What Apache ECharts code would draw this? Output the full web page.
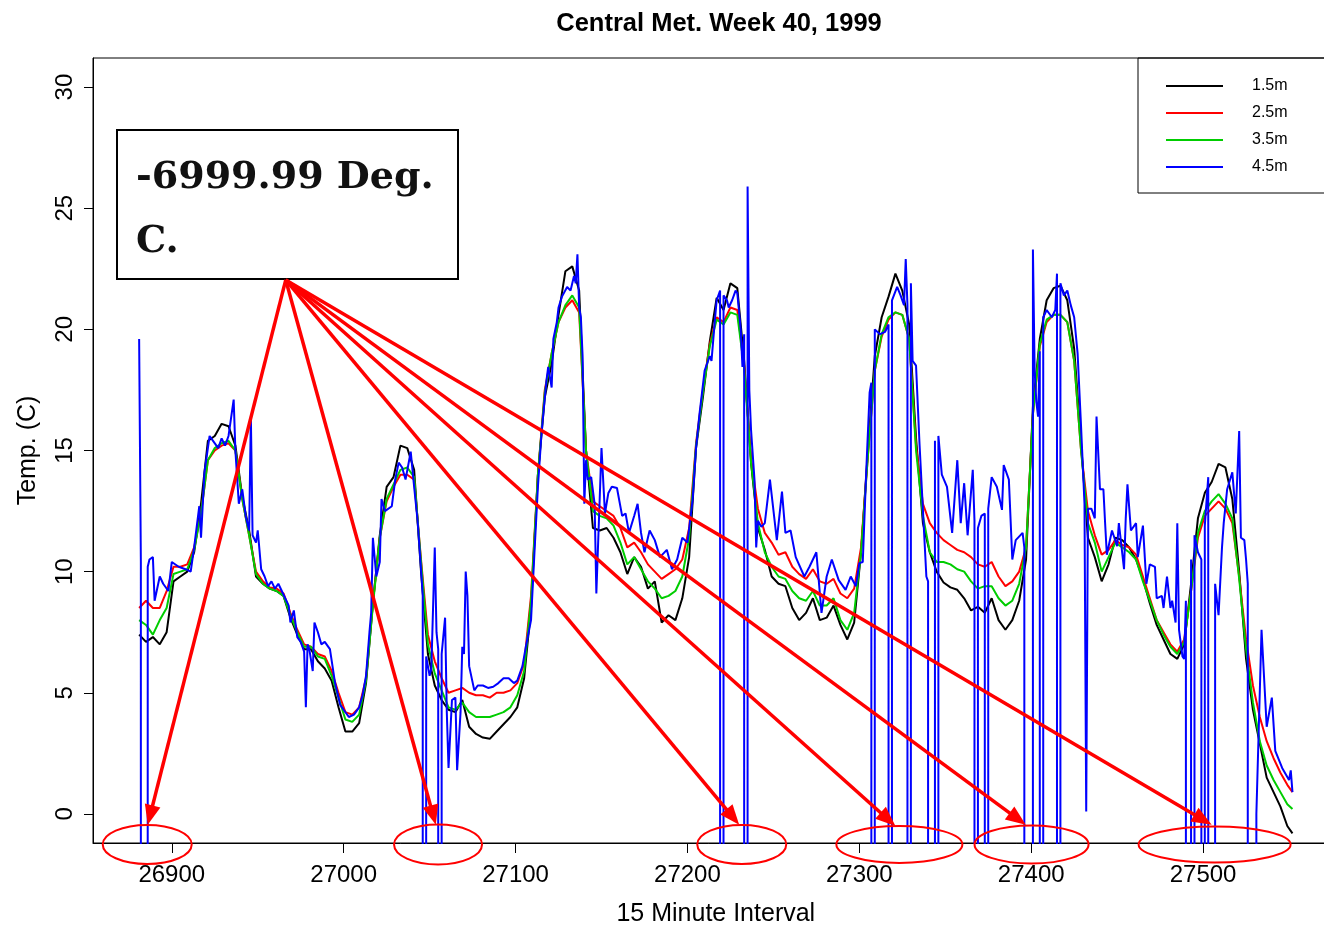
<!DOCTYPE html>
<html>
<head>
<meta charset="utf-8">
<title>Central Met. Week 40, 1999</title>
<script src="https://cdn.jsdelivr.net/npm/echarts@6/dist/echarts.min.js"></script>
<style>
  html, body { margin: 0; padding: 0; background: #fff; }
  #chart { width: 1324px; height: 926px; }
</style>
</head>
<body>
<div id="chart"></div>
<script>
// sampled 15 minute intervals for the 1.5m / 2.5m / 3.5m sensors
var xStart = 26881;
var xStep = 4;
var xEnd = 27552;

var xTicks = [26900, 27000, 27100, 27200, 27300, 27400, 27500];
var yTicks = [0, 5, 10, 15, 20, 25, 30];

var t15 = [
  7.4, 7.1, 7.3, 7.0, 7.5, 9.6, 9.8, 10.0, 10.8, 12.8,
  15.4, 15.6, 16.1, 16.0, 15.2, 13.1, 11.7, 9.8, 9.5, 9.3,
  9.2, 9.0, 8.1, 7.4, 6.8, 6.8, 6.3, 6.0, 5.5, 4.4,
  3.4, 3.4, 3.75, 5.4, 8.7, 11.5, 13.5, 13.9, 15.2, 15.1,
  14.2, 10.0, 6.6, 5.3, 4.7, 4.3, 4.2, 4.7, 3.6, 3.3,
  3.15, 3.1, 3.4, 3.7, 4.0, 4.4, 5.6, 8.5, 14.0, 17.2,
  18.6, 20.6, 22.4, 22.6, 21.6, 15.0, 11.8, 11.7, 11.8, 11.4,
  10.8, 9.9, 10.6, 10.2, 9.3, 9.6, 7.9, 8.2, 8.0, 8.9,
  10.6, 15.1, 17.2, 19.5, 21.3, 20.8, 21.9, 21.7, 18.7, 14.5,
  11.8, 10.9, 9.8, 9.5, 9.4, 8.5, 8.0, 8.3, 8.9, 8.0,
  8.1, 8.6, 7.8, 7.2, 7.9, 10.8, 15.0, 18.9, 20.5, 21.35,
  22.3, 21.6, 20.2, 15.5, 12.0, 10.8, 10.0, 9.55, 9.35, 9.25,
  8.9, 8.4, 8.55, 8.3, 8.9, 8.0, 7.6, 8.0, 8.8, 10.5,
  16.8, 19.6, 21.2, 21.7, 21.8, 21.2, 19.2, 15.3, 11.4, 10.6,
  9.6, 10.3, 11.4, 11.3, 11.0, 10.5, 9.7, 8.7, 7.8, 7.2,
  6.6, 6.4, 7.0, 9.5, 12.2, 13.25, 13.7, 14.45, 14.3, 13.0,
  10.0, 6.4, 4.3, 2.9, 1.5, 0.9, 0.3, -0.5, -0.8
];

var t25 = [
  8.5, 8.8, 8.5, 8.5, 9.2, 10.2, 10.2, 10.3, 11.0, 12.4,
  14.6, 15.0, 15.2, 15.3, 15.0, 13.0, 11.5, 10.0, 9.6, 9.35,
  9.3, 9.1, 8.3, 7.6, 7.0, 6.9, 6.6, 6.5, 5.9, 5.0,
  4.2, 4.1, 4.4, 5.6, 8.7, 11.4, 12.9, 13.5, 14.0, 14.0,
  13.8, 10.5, 7.4, 6.3, 5.6, 5.0, 5.1, 5.2, 5.0, 4.9,
  4.9, 4.8, 5.0, 5.0, 5.1, 5.4, 6.2, 9.0, 14.0, 17.5,
  19.0, 20.3, 20.9, 21.2, 20.7, 15.0, 12.9, 12.7, 12.5, 12.3,
  11.8, 11.0, 11.2, 10.8, 10.3, 10.0, 9.7, 9.9, 10.1, 10.5,
  11.8, 15.3, 17.5, 19.4, 20.5, 20.3, 20.9, 20.8, 18.5, 14.7,
  12.6, 11.6, 11.2, 10.7, 10.8, 10.2, 9.9, 9.7, 10.1, 9.6,
  9.5, 9.7, 9.1, 8.9, 9.3, 11.0, 14.8, 18.3, 19.7, 20.4,
  20.7, 20.6, 19.6, 15.2, 12.8, 12.0, 11.6, 11.3, 11.1, 10.9,
  10.8, 10.6, 10.3, 10.2, 10.4, 9.8, 9.4, 9.6, 10.0, 11.0,
  16.5, 19.3, 20.3, 20.6, 20.6, 20.3, 18.7, 15.0, 12.5, 11.5,
  10.7, 10.9, 11.3, 11.1, 11.0, 10.7, 9.8, 8.9, 8.0, 7.5,
  7.0, 6.7, 7.2, 9.2, 11.4, 12.3, 12.6, 12.9, 12.6, 12.0,
  9.8, 7.2, 5.3, 4.0, 3.0, 2.3, 1.7, 1.2, 0.9
];

var t35 = [
  8.0, 7.8, 7.4, 8.0, 8.5, 9.9, 10.0, 10.1, 10.9, 12.4,
  14.6, 15.1, 15.3, 15.4, 15.0, 13.0, 11.5, 9.9, 9.5, 9.3,
  9.2, 9.0, 8.2, 7.5, 6.9, 6.9, 6.5, 6.4, 5.7, 4.8,
  3.9, 3.8, 4.1, 5.5, 8.6, 11.4, 13.0, 13.6, 14.2, 14.3,
  13.9, 10.4, 7.0, 5.8, 5.1, 4.4, 4.3, 4.6, 4.2, 4.0,
  4.0, 4.0, 4.1, 4.2, 4.4, 4.9, 5.9, 8.8, 14.0, 17.4,
  19.0, 20.3, 21.0, 21.4, 20.9, 15.0, 12.5, 12.3, 12.2, 11.9,
  11.2, 10.3, 10.6, 10.1, 9.6, 9.3, 8.9, 9.0, 9.2, 9.8,
  11.4, 15.2, 17.4, 19.3, 20.4, 20.2, 20.7, 20.6, 18.4, 14.5,
  12.0, 10.8, 10.2, 9.8, 9.7, 9.2, 8.9, 8.8, 9.2, 8.6,
  8.6, 8.9, 8.0, 7.6, 8.3, 10.8, 14.8, 18.3, 19.8, 20.5,
  20.7, 20.6, 19.6, 15.0, 12.3, 10.8, 10.4, 10.4, 10.3, 10.1,
  10.0, 9.6, 9.3, 9.4, 9.4, 8.9, 8.6, 8.8, 9.5, 11.0,
  16.5, 19.4, 20.4, 20.6, 20.6, 20.3, 18.7, 15.0, 12.0, 11.2,
  10.0, 10.6, 11.2, 11.0, 10.8, 10.5, 9.6, 8.8, 8.0, 7.4,
  6.9, 6.6, 7.1, 9.2, 11.6, 12.5, 12.9, 13.2, 12.8, 12.2,
  9.7, 6.8, 4.6, 3.0, 2.0, 1.4, 0.9, 0.4, 0.2
];

// 4.5m sensor keeps its own intervals, -6999.99 is the logger's missing code
var D = -6999.99;
var t45 = [
  [26881, 19.6], [26882, 10.4], [26883, D], [26884, D], [26885, D], [26886, 10.2], [26887, 10.5], [26889, 10.6],
  [26890, 8.8], [26893, 9.8], [26895, 9.5], [26898, 9.2], [26900, 10.4], [26904, 10.2], [26908, 10.1], [26911, 10.0],
  [26913, 11.0], [26916, 12.7], [26917, 11.4], [26919, 14.1], [26922, 15.6], [26924, 15.4], [26927, 15.1], [26929, 15.5],
  [26931, 15.2], [26933, 15.6], [26934, 16.1], [26936, 17.1], [26937, 15.0], [26939, 12.8], [26941, 13.4], [26943, 12.3],
  [26945, 11.7], [26946, 16.4], [26947, 11.5], [26949, 11.2], [26950, 11.7], [26952, 10.1], [26954, 9.8], [26956, 9.4],
  [26958, 9.6], [26960, 9.3], [26962, 9.5], [26964, 9.2], [26966, 8.9], [26968, 8.6], [26969, 7.9], [26971, 8.4],
  [26973, 7.3], [26975, 7.1], [26977, 6.7], [26978, 4.4], [26979, 7.0], [26980, 6.8], [26982, 5.9], [26983, 7.9],
  [26985, 7.5], [26987, 7.0], [26989, 7.1], [26992, 6.8], [26995, 5.4], [26998, 4.5], [27000, 4.3], [27003, 4.0],
  [27006, 4.1], [27009, 4.4], [27011, 4.9], [27013, 5.7], [27015, 7.5], [27016, 8.3], [27017, 11.4], [27019, 9.8],
  [27021, 10.4], [27022, 13.0], [27024, 12.5], [27028, 12.7], [27030, 13.8], [27032, 14.5], [27034, 14.3], [27036, 13.8],
  [27039, 14.95], [27041, 13.5], [27043, 12.1], [27045, 10.1], [27046, 9.0], [27047, D], [27048, 6.5], [27050, 5.7],
  [27051, 6.0], [27053, 11.0], [27054, 7.5], [27055, 6.8], [27056, D], [27057, 6.6], [27058, 6.6], [27059, 8.1],
  [27060, 4.2], [27061, 1.9], [27063, 4.7], [27065, 4.8], [27066, 1.8], [27068, 4.2], [27069, 6.9], [27070, 6.6],
  [27071, 10.0], [27072, 9.0], [27073, 6.1], [27074, 6.1], [27076, 5.1], [27078, 5.3], [27081, 5.3], [27084, 5.2],
  [27087, 5.25], [27090, 5.4], [27093, 5.6], [27096, 5.6], [27099, 5.4], [27101, 5.5], [27104, 6.1], [27106, 6.9],
  [27109, 8.0], [27111, 10.8], [27113, 13.5], [27115, 15.6], [27116, 16.4], [27118, 17.9], [27119, 18.45], [27121, 17.6],
  [27122, 19.6], [27124, 20.3], [27125, 20.9], [27127, 21.35], [27130, 21.75], [27132, 21.6], [27134, 22.2], [27135, 21.9],
  [27136, 23.1], [27137, 20.9], [27138, 20.5], [27139, 18.9], [27140, 12.8], [27141, 14.6], [27142, 13.8], [27144, 13.9],
  [27146, 12.8], [27147, 9.1], [27150, 15.1], [27152, 12.4], [27154, 13.25], [27156, 13.5], [27159, 13.45], [27162, 12.3],
  [27164, 12.4], [27166, 11.6], [27169, 12.3], [27171, 12.8], [27173, 11.6], [27175, 10.8], [27178, 11.7], [27181, 11.3],
  [27184, 10.6], [27188, 10.9], [27191, 10.1], [27194, 10.5], [27197, 11.4], [27200, 11.2], [27203, 12.95], [27205, 15.1],
  [27207, 16.5], [27210, 18.3], [27213, 18.9], [27214, 18.7], [27216, 20.4], [27217, 21.2], [27219, 21.6], [27220, D],
  [27221, 21.4], [27223, 21.2], [27224, 20.9], [27226, 21.2], [27228, 21.6], [27229, 21.5], [27231, 20.0], [27232, 18.45],
  [27233, 19.8], [27234, D], [27235, 25.9], [27236, 17.5], [27237, 15.85], [27239, 13.8], [27240, 11.0], [27241, 12.1],
  [27243, 11.85], [27245, 12.0], [27248, 13.8], [27252, 11.3], [27255, 13.3], [27257, 11.6], [27260, 11.7], [27263, 10.6],
  [27268, 9.8], [27271, 10.2], [27275, 10.8], [27278, 8.3], [27281, 9.8], [27284, 10.5], [27288, 9.65], [27292, 9.25],
  [27295, 9.8], [27298, 9.4], [27300, 10.35], [27302, 10.4], [27304, 14.1], [27306, 17.4], [27307, 17.8], [27308, D],
  [27309, 20.0], [27312, 19.8], [27315, 19.9], [27317, 20.2], [27318, D], [27319, 21.2], [27322, 21.75], [27324, 21.4],
  [27326, 21.0], [27327, 22.9], [27328, 21.0], [27329, D], [27330, 21.9], [27331, 18.7], [27333, 18.5], [27335, 15.3],
  [27337, 12.55], [27339, 9.8], [27340, 9.6], [27341, D], [27342, D], [27343, D], [27344, 15.4], [27345, D],
  [27346, 15.6], [27348, 14.0], [27351, 13.5], [27354, 11.6], [27357, 14.6], [27359, 12.0], [27361, 13.65], [27363, 11.5],
  [27366, 14.2], [27367, 12.1], [27368, D], [27369, 11.8], [27371, 12.3], [27373, 12.4], [27374, D], [27375, 12.6],
  [27377, 13.9], [27380, 13.5], [27383, 12.55], [27384, 14.4], [27387, 13.8], [27389, 10.5], [27391, 11.3], [27395, 11.6],
  [27396, 11.0], [27397, D], [27398, D], [27399, D], [27400, D], [27401, 23.3], [27402, 18.3], [27403, 17.0],
  [27404, 16.4], [27405, 19.1], [27406, D], [27407, 20.5], [27409, 20.8], [27412, 20.5], [27414, 20.8], [27415, 22.3],
  [27416, D], [27417, 21.9], [27419, 21.4], [27421, 21.6], [27423, 21.0], [27425, 20.5], [27427, 19.0], [27429, 16.0],
  [27431, 12.8], [27432, 0.1], [27433, 12.6], [27435, 12.6], [27437, 12.2], [27438, 16.4], [27440, 13.4], [27442, 13.4],
  [27443, 12.0], [27444, 10.7], [27447, 11.7], [27450, 11.05], [27451, 12.0], [27454, 10.1], [27455, 12.2], [27456, 13.6],
  [27458, 11.7], [27461, 12.0], [27462, 10.6], [27465, 11.9], [27467, 9.5], [27469, 10.3], [27472, 10.2], [27473, 8.9],
  [27476, 9.0], [27477, 8.5], [27479, 9.8], [27481, 8.5], [27482, 8.8], [27484, 7.9], [27485, 12.0], [27486, 7.6],
  [27488, 6.5], [27489, 6.4], [27490, 8.8], [27491, D], [27492, D], [27493, 10.5], [27494, D], [27495, 11.5],
  [27497, 10.8], [27499, 10.5], [27500, D], [27501, 11.9], [27503, 13.9], [27504, D], [27505, D], [27506, D],
  [27507, 9.5], [27509, 8.2], [27511, 11.0], [27512, 12.0], [27514, 13.4], [27517, 14.1], [27519, 12.4], [27521, 15.8],
  [27522, 11.4], [27524, 11.3], [27525, 10.5], [27526, 9.5], [27527, D], [27528, D], [27529, D], [27530, D],
  [27531, 0.0], [27534, 7.6], [27535, 7.6], [27537, 3.6], [27540, 4.8], [27542, 2.6], [27546, 1.9], [27550, 1.4],
  [27551, 1.8], [27552, 0.9]
];

// annotation: arrows from the callout box to the missing readings
var arrowFrom = [26966.3, 22.04];
var arrowTo = [
  [26886.0, -0.45], [27053.6, -0.45], [27230.1, -0.45],
  [27321.0, -0.5], [27396.8, -0.45], [27505.0, -0.45]
];
// ring centres on the x axis, radii in px
var rings = [
  [26885.7, 44.5, 19.5], [27054.9, 44, 20], [27231.6, 44.5, 19.5],
  [27323.3, 63, 18.5], [27400.2, 57, 19], [27506.7, 76, 18]
];

var xs = [];
for (var x = xStart; x <= xEnd; x += xStep) xs.push(x);
if (xs[xs.length - 1] !== xEnd) xs.push(xEnd);

function pairs(vals) {
  return vals.map(function (v, i) { return [xs[i], v]; });
}

function lineSeries(name, color, data) {
  return {
    name: name,
    type: 'line',
    data: data,
    symbol: 'none',
    showSymbol: false,
    clip: true,
    lineStyle: { color: color, width: 2 },
    itemStyle: { color: color },
    emphasis: { disabled: true }
  };
}

var chart = echarts.init(document.getElementById('chart'));

var option = {
  animation: false,
  backgroundColor: '#fff',
  textStyle: { fontFamily: 'Liberation Sans, Arial, sans-serif', color: '#000' },
  title: {
    text: 'Central Met. Week 40, 1999',
    left: 714,
    top: 6,
    textAlign: 'center',
    textStyle: { fontSize: 25.5, fontWeight: 'bold', color: '#000', fontFamily: 'Liberation Sans' }
  },
  legend: {
    orient: 'vertical',
    left: 1161,
    top: 73,
    icon: 'rect',
    itemWidth: 57,
    itemHeight: 2,
    itemGap: 11,
    textStyle: { fontSize: 16, color: '#000', padding: [0, 0, 0, 24] },
    data: ['1.5m', '2.5m', '3.5m', '4.5m']
  },
  grid: {
    left: 93,
    top: 58,
    width: 1245.6,
    height: 785,
    outerBoundsMode: 'none',
    containLabel: false,
    show: true,
    borderColor: '#000',
    borderWidth: 1
  },
  xAxis: {
    type: 'value',
    min: 26854.16,
    max: 27578.84,
    name: '15 Minute Interval',
    nameLocation: 'middle',
    nameGap: 59,
    nameTextStyle: { fontSize: 25, color: '#000' },
    axisLine: { show: true, onZero: false, lineStyle: { color: '#000', width: 1 } },
    axisTick: { show: true, customValues: xTicks, length: 10, lineStyle: { color: '#000' } },
    axisLabel: {
      customValues: xTicks, fontSize: 24, color: '#000', margin: 20,
      formatter: function (v) { return String(v); }
    },
    splitLine: { show: false }
  },
  yAxis: {
    type: 'value',
    min: -1.2,
    max: 31.2,
    name: 'Temp. (C)',
    nameLocation: 'middle',
    nameGap: 52,
    nameRotate: 90,
    nameTextStyle: { fontSize: 25, color: '#000' },
    axisLine: { show: true, onZero: false, lineStyle: { color: '#000', width: 1 } },
    axisTick: { show: true, customValues: yTicks, length: 9, lineStyle: { color: '#000' } },
    axisLabel: {
      customValues: yTicks, rotate: 90, fontSize: 24, color: '#000', margin: 16,
      formatter: function (v) { return String(v); }
    },
    splitLine: { show: false }
  },
  series: [
    lineSeries('1.5m', '#000000', pairs(t15)),
    lineSeries('2.5m', '#ff0000', pairs(t25)),
    lineSeries('3.5m', '#00cd00', pairs(t35)),
    lineSeries('4.5m', '#0000ff', t45)
  ]
};

chart.setOption(option);

// callout box, legend frame, arrows and rings
var els = [];
els.push({
  type: 'rect', z: 10,
  shape: { x: 1138, y: 58, width: 210, height: 135 },
  style: { fill: 'none', stroke: '#000', lineWidth: 1 }
});
els.push({
  type: 'rect', z: 10,
  shape: { x: 117, y: 130, width: 341, height: 149 },
  style: { fill: '#fff', stroke: '#000', lineWidth: 2 }
});
els.push({
  type: 'text', z: 11, x: 136, y: 178,
  style: { text: '-6999.99 Deg.', font: 'bold 38px "DejaVu Serif"', fill: '#111', verticalAlign: 'middle' }
});
els.push({
  type: 'text', z: 11, x: 136, y: 242,
  style: { text: 'C.', font: 'bold 38px "DejaVu Serif"', fill: '#111', verticalAlign: 'middle' }
});

var o = chart.convertToPixel({ gridIndex: 0 }, arrowFrom);
arrowTo.forEach(function (p) {
  var t = chart.convertToPixel({ gridIndex: 0 }, p);
  var dx = t[0] - o[0], dy = t[1] - o[1];
  var len = Math.sqrt(dx * dx + dy * dy);
  var ux = dx / len, uy = dy / len;
  var headL = 20, headW = 8;
  var bx = t[0] - ux * headL, by = t[1] - uy * headL;
  els.push({
    type: 'line', z: 12,
    shape: { x1: o[0], y1: o[1], x2: bx + ux * 2, y2: by + uy * 2 },
    style: { stroke: '#ff0000', lineWidth: 3.5 }
  });
  els.push({
    type: 'polygon', z: 12,
    shape: { points: [[t[0], t[1]], [bx - uy * headW, by + ux * headW], [bx + uy * headW, by - ux * headW]] },
    style: { fill: '#ff0000' }
  });
});

rings.forEach(function (r) {
  var c = chart.convertToPixel({ gridIndex: 0 }, [r[0], -1.26]);
  els.push({
    type: 'ellipse', z: 12,
    shape: { cx: c[0], cy: c[1], rx: r[1], ry: r[2] },
    style: { fill: 'none', stroke: '#ff0000', lineWidth: 2 }
  });
});

chart.setOption({ graphic: els });
</script>
</body>
</html>
